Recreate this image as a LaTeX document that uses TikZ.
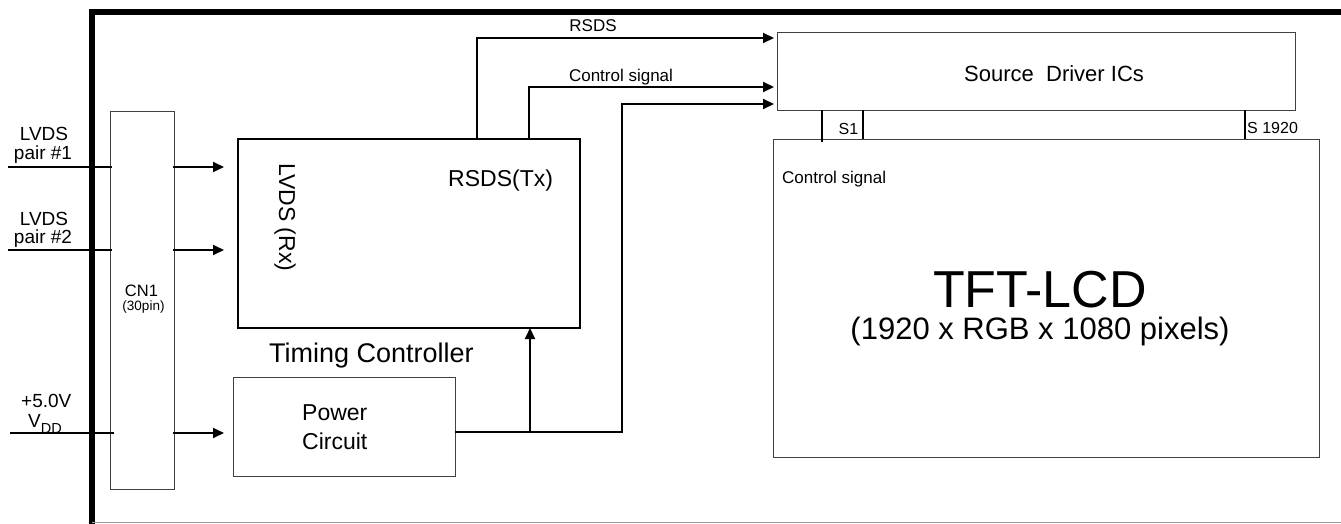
\documentclass[tikz,border=0pt]{standalone}
\usepackage{fontspec}
\setmainfont{Liberation Sans}
\usetikzlibrary{arrows.meta, positioning}

\begin{document}
\begin{tikzpicture}[x=1pt, y=-1pt,
    blk/.style={draw=black!75, line width=0.9pt, inner sep=0pt, outer sep=0pt},
    arr/.style={-{Triangle[length=11pt,width=10pt]}, line width=2pt},
    wire/.style={line width=2pt},
    pin/.style={line width=1.5pt},
    lbl/.style={inner sep=0pt, anchor=base},
    fs/.style={font=\fontsize{#1}{#1}\selectfont}
  ]
  \useasboundingbox (0,0) rectangle (1341,524);
  % module frame
  \draw[line width=5.5pt] (92,524) -- (92,12) -- (1341,12);
  \draw[black!40, line width=1pt] (92,522.5) -- (1341,522.5);

  % blocks
  \node[blk, minimum width=64pt, minimum height=378pt] (cn1) at (142,300) {};
  \node[blk, draw=black, line width=2pt, minimum width=342pt, minimum height=189pt] (tcon) at (409,233.5) {};
  \node[blk, minimum width=222pt, minimum height=99pt] (pwr) at (344,426.5) {};
  \node[blk, minimum width=518pt, minimum height=78pt] (src) at (1036,71) {};
  \node[blk, minimum width=546pt, minimum height=318pt] (tft) at (1046,298) {};

  % inputs
  \coordinate (in1) at (8,167);
  \coordinate (in2) at (8,250);
  \coordinate (invdd) at (10,433);
  \draw[wire] (in1) -- ([xshift=2pt]cn1.west |- in1);
  \draw[wire] (in2) -- ([xshift=2pt]cn1.west |- in2);
  \draw[wire] (invdd) -- ([xshift=4pt]cn1.west |- invdd);
  \draw[arr] ([xshift=-1pt]cn1.east |- in1) -- ([xshift=-14pt]tcon.west |- in1);
  \draw[arr] ([xshift=-1pt]cn1.east |- in2) -- ([xshift=-14pt]tcon.west |- in2);
  \draw[arr] ([xshift=-1pt]cn1.east |- invdd) -- ([xshift=-9pt]pwr.west |- invdd);

  % timing controller / power to source drivers
  \draw[arr] ([xshift=68pt]tcon.north) |- ([xshift=-3pt,yshift=33pt]src.west);
  \draw[arr] ([xshift=120pt]tcon.north) |- ([xshift=-3pt,yshift=-16pt]src.west);
  \draw[arr] ([yshift=-5.5pt]pwr.east) -- ++(167,0) |- ([xshift=-3pt,yshift=-33pt]src.west);
  \coordinate (pj) at (530,432);
  \draw[arr] (pj) -- (pj |- tcon.south);

  % source lines
  \draw[pin] ([xshift=-214pt]src.south) -- ++(0,32);
  \draw[pin] ([xshift=-173pt]src.south) -- ++(0,29);
  \draw[pin] ([xshift=209pt]src.south) -- ++(0,29);

  % labels
  \node[lbl, fs=19] (lvdsa) at (44,141) {LVDS};
  \node[lbl, fs=19] (paira) at (43,159) {pair \#1};
  \node[lbl, fs=19] (lvdsb) at (44,225) {LVDS};
  \node[lbl, fs=19] (pairb) at (43,243) {pair \#2};
  \node[lbl, fs=19, anchor=base west] (vin) at (21,407) {+5.0V};
  \node[lbl, fs=19, anchor=base west] (vdd) at (28,427) {V\raisebox{-6pt}{\fontsize{14.5}{14.5}\selectfont DD}};
  \node[lbl, fs=16.5] (cnname) at (141.5,296) {CN1};
  \node[lbl, fs=13.5] (cnpin) at (143.5,310) {(30pin)};
  \node[lbl, fs=23, rotate=-90, anchor=base west] (rx) at (279,163) {LVDS (Rx)};
  \node[lbl, fs=23, anchor=base west] (tx) at (448,186) {RSDS(Tx)};
  \node[lbl, fs=27, anchor=base west] (tconname) at (269,362) {Timing Controller};
  \node[lbl, fs=23, anchor=base west] (pwra) at (302,420) {Power};
  \node[lbl, fs=23, anchor=base west] (pwrb) at (302,449) {Circuit};
  \node[lbl, fs=17] (rsds) at (593,32) {RSDS};
  \node[lbl, fs=17] (ctla) at (621,82) {Control signal};
  \node[lbl, fs=22, anchor=base west] (srcname) at (964,82) {Source\ \ Driver ICs};
  \node[lbl, fs=16] (sone) at (848.5,135) {S1};
  \node[lbl, fs=16, anchor=base west] (slast) at (1247,134) {S 1920};
  \node[lbl, fs=17, anchor=base west] (ctlb) at (782,183) {Control signal};
  \node[lbl, fs=52] (tftname) at (1040,307) {TFT-LCD};
  \node[lbl, fs=31] (tftres) at (1040,339) {(1920 x RGB x 1080 pixels)};
\end{tikzpicture}
\end{document}
